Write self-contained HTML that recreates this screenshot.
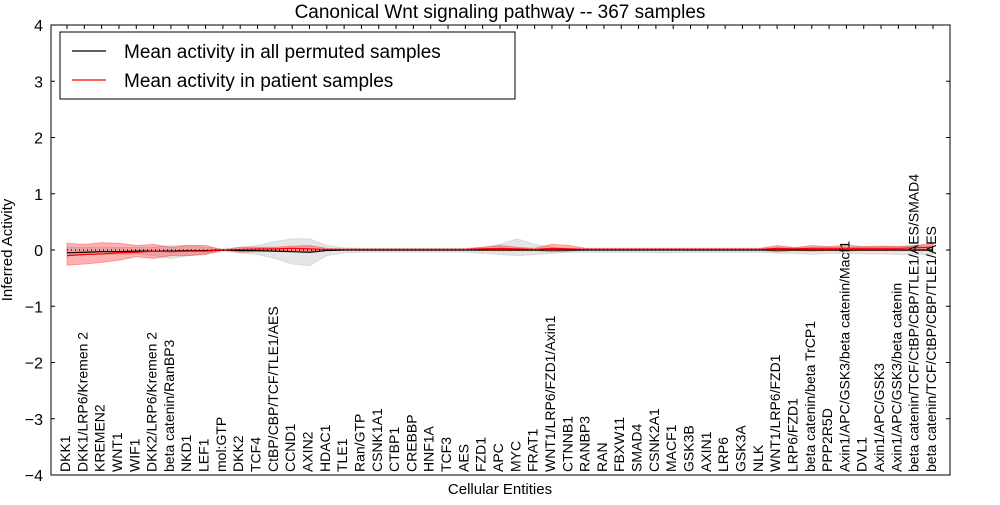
<!DOCTYPE html>
<html><head><meta charset="utf-8"><style>
body{margin:0;background:#fff;}
svg{font-family:"Liberation Sans","DejaVu Sans",sans-serif;}
</style></head><body>
<svg id="chart" width="1000" height="500" xmlns="http://www.w3.org/2000/svg">
<text x="500" y="18" text-anchor="middle" font-size="19">Canonical Wnt signaling pathway -- 367 samples</text>
<g id="plot"></g>
<text x="500" y="494" text-anchor="middle" font-size="15">Cellular Entities</text>
<text transform="translate(12,250) rotate(-90)" text-anchor="middle" font-size="15">Inferred Activity</text>
</svg>
<script>
const categories=["DKK1","DKK1/LRP6/Kremen 2","KREMEN2","WNT1","WIF1","DKK2/LRP6/Kremen 2","beta catenin/RanBP3","NKD1","LEF1","mol:GTP","DKK2","TCF4","CtBP/CBP/TCF/TLE1/AES","CCND1","AXIN2","HDAC1","TLE1","Ran/GTP","CSNK1A1","CTBP1","CREBBP","HNF1A","TCF3","AES","FZD1","APC","MYC","FRAT1","WNT1/LRP6/FZD1/Axin1","CTNNB1","RANBP3","RAN","FBXW11","SMAD4","CSNK2A1","MACF1","GSK3B","AXIN1","LRP6","GSK3A","NLK","WNT1/LRP6/FZD1","LRP6/FZD1","beta catenin/beta TrCP1","PPP2R5D","Axin1/APC/GSK3/beta catenin/Macf1","DVL1","Axin1/APC/GSK3","Axin1/APC/GSK3/beta catenin","beta catenin/TCF/CtBP/CBP/TLE1/AES/SMAD4","beta catenin/TCF/CtBP/CBP/TLE1/AES"];
const permMean=[-0.05,-0.04,-0.03,-0.03,-0.02,-0.02,-0.02,-0.01,-0.01,0,-0.01,-0.01,-0.02,-0.03,-0.04,-0.01,0,0,0,0,0,0,0,0,0,0,0,0,0,0,0,0,0,0,0,0,0,0,0,0,0,0,0,0,0,0,0,0,0,0,0];
const permHi=[0.05,0.05,0.05,0.05,0.05,0.05,0.08,0.08,0.05,0.02,0.05,0.08,0.15,0.2,0.2,0.08,0.04,0.03,0.03,0.03,0.03,0.03,0.03,0.03,0.05,0.1,0.2,0.1,0.05,0.03,0.03,0.03,0.03,0.03,0.03,0.03,0.03,0.03,0.03,0.03,0.03,0.05,0.05,0.05,0.05,0.05,0.06,0.06,0.07,0.08,0.08];
const permLo=[-0.08,-0.08,-0.08,-0.08,-0.07,-0.1,-0.15,-0.1,-0.07,-0.02,-0.05,-0.08,-0.15,-0.25,-0.28,-0.1,-0.05,-0.04,-0.04,-0.04,-0.04,-0.04,-0.04,-0.04,-0.06,-0.08,-0.1,-0.08,-0.06,-0.04,-0.04,-0.04,-0.04,-0.04,-0.05,-0.05,-0.04,-0.04,-0.04,-0.04,-0.04,-0.06,-0.06,-0.08,-0.06,-0.06,-0.07,-0.07,-0.08,-0.08,-0.08];
const patMean=[-0.1,-0.08,-0.07,-0.05,-0.04,-0.02,-0.03,-0.02,-0.02,0,0.01,0.02,0.02,0.03,0.02,0.01,0.01,0.01,0.01,0.01,0.01,0.01,0.01,0.01,0.02,0.03,0.02,0.01,0.03,0.02,0.01,0.01,0.01,0.01,0.01,0.01,0.01,0.01,0.01,0.01,0.01,0.03,0.02,0.03,0.03,0.03,0.03,0.03,0.03,0.04,0.05];
const patHi=[0.12,0.1,0.13,0.12,0.08,0.1,0.05,0.08,0.08,0,0.05,0.05,0.05,0.07,0.08,0.03,0.02,0.02,0.02,0.02,0.02,0.02,0.02,0.02,0.05,0.08,0.05,0.03,0.1,0.08,0.03,0.03,0.03,0.03,0.03,0.03,0.03,0.03,0.03,0.03,0.03,0.08,0.04,0.08,0.06,0.09,0.06,0.07,0.06,0.08,0.12];
const patLo=[-0.27,-0.25,-0.22,-0.18,-0.12,-0.15,-0.1,-0.1,-0.08,0,-0.04,-0.03,-0.02,-0.01,-0.02,-0.01,0,0,0,0,0,0,0,0,-0.01,-0.01,-0.01,-0.01,-0.03,-0.02,0,0,0,0,0,0,0,0,0,0,0,-0.03,-0.01,-0.02,-0.01,-0.02,-0.01,-0.01,-0.01,-0.01,-0.01];
const yTicks=[-4,-3,-2,-1,0,1,2,3,4];

const NS="http://www.w3.org/2000/svg";
const L=51,R=950,T=25,B=475,X0=67,X1=933;
const xs=i=>X0+(X1-X0)*i/(categories.length-1);
const ys=v=>B-(v+4)/8*(B-T);
const g=document.getElementById('plot');
function mk(tag,attrs){const e=document.createElementNS(NS,tag);for(const k in attrs)e.setAttribute(k,attrs[k]);g.appendChild(e);return e;}
function band(hi,lo,fill,name){
  let d="M"+hi.map((v,i)=>xs(i)+","+ys(v)).join("L")+"L"+lo.map((v,i)=>xs(i)+","+ys(v)).reverse().join("L")+"Z";
  const p=mk('path',{d:d,fill:fill,stroke:fill});
  
  
}
function line(arr,col,name,dash){
  const p=mk('polyline',{points:arr.map((v,i)=>xs(i)+","+ys(v)).join(" "),fill:"none",stroke:col,"stroke-width":1.2});
  if(dash)p.setAttribute('stroke-dasharray',dash);
  
  
}
band(permHi,permLo,"rgba(150,150,150,0.25)","permuted-band");
band(patHi,patLo,"rgba(255,0,0,0.3)","patient-band");
line(permMean,"#000","permuted-mean-line");
line(patMean,"#f00","patient-mean-line");
line(permMean.map(()=>0),"#000","zero-dotted-line","1,3");
const fr=mk('rect',{x:L,y:T,width:R-L,height:B-T,fill:"none",stroke:"#000","stroke-width":1});


yTicks.forEach(v=>{
  const y=ys(v);
  mk('line',{x1:L,x2:L+4,y1:y,y2:y,stroke:"#000"});
  mk('line',{x1:R,x2:R-4,y1:y,y2:y,stroke:"#000"});
  const t=mk('text',{x:L-8,y:y+6,"text-anchor":"end","font-size":16});
  t.textContent=v<0?"\u2212"+(-v):String(v);
  
  
});
categories.forEach((c,i)=>{
  const x=xs(i);
  mk('line',{x1:x,x2:x,y1:T,y2:T+4,stroke:"#000"});
  const t=mk('text',{transform:"translate("+(x+3)+","+(B-3)+") rotate(-90)","font-size":14});
  t.textContent=c;
  
  
});
const lg=mk('rect',{x:60,y:32,width:455,height:67,fill:"#fff",stroke:"#000"});


[["#000","Mean activity in all permuted samples",51],["#f00","Mean activity in patient samples",80]].forEach(([c,s,y])=>{
  mk('line',{x1:72,x2:106,y1:y,y2:y,stroke:c,"stroke-width":1.2});
  const t=mk('text',{x:124,y:y+7,"font-size":19});
  t.textContent=s;
  
  
});
</script>
</body></html>
